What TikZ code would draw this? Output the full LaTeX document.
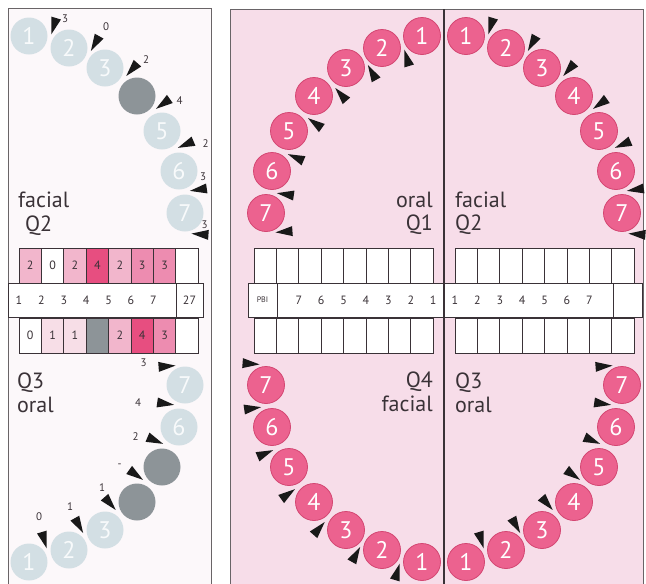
\documentclass[tikz,border=0pt]{standalone}
\usepackage{fontspec}
\setmainfont{PT Sans}
\usepackage{xcolor}
\usepackage{tikz}
\usetikzlibrary{calc,positioning}

\definecolor{panelpink}{RGB}{247,221,233}
\definecolor{paperwhite}{RGB}{252,248,250}
\definecolor{toothpink}{RGB}{236,98,143}
\definecolor{toothrim}{RGB}{212,70,114}
\definecolor{toothpale}{RGB}{211,223,228}
\definecolor{toothgone}{RGB}{141,148,152}
\definecolor{inkgray}{RGB}{58,50,55}
\definecolor{framegray}{RGB}{105,100,103}
\definecolor{sc0}{RGB}{255,255,255}
\definecolor{sc1}{RGB}{247,222,231}
\definecolor{sc2}{RGB}{242,182,204}
\definecolor{sc3}{RGB}{237,140,176}
\definecolor{sc4}{RGB}{231,78,128}

\tikzset{
  tooth/.style={circle, minimum size=37pt, inner sep=0pt, fill=toothpink, draw=toothrim,
    line width=0.8pt, text=white, font=\fontsize{24}{24}\selectfont},
  paletooth/.style={circle, minimum size=37pt, inner sep=0pt, fill=toothpale,
    text=white!85!toothpale, font=\fontsize{24}{24}\selectfont},
  gonetooth/.style={paletooth, fill=toothgone},
  cell/.style={draw=inkgray, line width=0.8pt, minimum width=22.4pt, minimum height=35pt,
    inner sep=0pt, text=inkgray, font=\fontsize{12}{12}\selectfont},
  strip/.style={draw=inkgray, fill=white, line width=0.8pt, minimum height=34pt,
    inner sep=0pt, outer sep=0pt, text=inkgray, font=\fontsize{12}{12}\selectfont},
  tabnum/.style={inner sep=0pt, text=inkgray, font=\fontsize{12}{12}\selectfont},
  sidetext/.style={inner sep=0pt, text=inkgray, font=\fontsize{22}{24}\selectfont},
  wedgelabel/.style={inner sep=0pt, text=inkgray, font=\fontsize{11}{11}\selectfont},
  wedgefill/.style={fill=black!90},
}

% black wedge in the gap between two teeth: tooth, next tooth, name
\newcommand{\gapwedge}[3]{%
  \coordinate (#3) at ($(#1)!0.5!(#2)$);
  \coordinate (#3-t) at ($(#3)!8pt!90:(#2)$);
  \coordinate (#3-b) at ($(#3)!25pt!90:(#2)$);
  \fill[wedgefill] (#3-t) -- ($(#3-b)!5pt!90:(#3-t)$) -- ($(#3-b)!5pt!-90:(#3-t)$) -- cycle;}

\begin{document}
\begin{tikzpicture}[x=1pt, y=-1pt]
\useasboundingbox (0,0) rectangle (646,584);

% Panels
\draw[framegray, fill=paperwhite] (8,8) rectangle (211,592);
\draw[framegray, fill=panelpink] (230,9) rectangle (643,592);

% Arch positions (8 = a point past the last tooth)
\foreach \k/\hx/\hy in {1/22/263, 2/62/251, 3/98/231, 4/130/203, 5/155/168, 6/172/128, 7/178/86, 8/175/46} {
  \coordinate (q1-\k) at (444-\hx, 299-\hy);
  \coordinate (q2-\k) at (444+\hx, 299-\hy);
  \coordinate (q3-\k) at (444+\hx, 299+\hy);
  \coordinate (q4-\k) at (444-\hx, 299+\hy);
  \coordinate (lu-\k) at (7+\hx, 299-\hy);
  \coordinate (ll-\k) at (7+\hx, 299+\hy);
}

% Left chart: facial scores, tooth numbers, oral scores
\foreach \k/\v/\c in {1/2/sc2, 2/0/sc0, 3/2/sc2, 4/4/sc4, 5/2/sc2, 6/3/sc3, 7/3/sc3, 8//white}
  \node[cell, fill=\c] (lf-\k) at (19+22.4*\k-11.2, 265.5) {\v};
\foreach \k/\v/\c in {1/0/sc0, 2/1/sc1, 3/1/sc1, 4//toothgone, 5/2/sc2, 6/4/sc4, 7/3/sc3, 8//white}
  \node[cell, fill=\c] (lo-\k) at (19+22.4*\k-11.2, 335.5) {\v};
\node[strip, minimum width=168pt] (lrow) at (92,300) {};
\node[strip, minimum width=27pt, right=0pt of lrow] (l27) {27};
\foreach \k in {1,...,7}
  \node[tabnum] (ln-\k) at (19+22.4*\k-22.4, 300) {\k};

% Right chart (empty)
\foreach \k in {1,...,8} {
  \node[cell, fill=white] (rf1-\k) at (433.2-22.4*\k+11.2, 265.5) {};
  \node[cell, fill=white] (ro1-\k) at (433.2-22.4*\k+11.2, 335.5) {};
  \node[cell, fill=white] (rf2-\k) at (455+22.4*\k-11.2, 265.5) {};
  \node[cell, fill=white] (ro2-\k) at (455+22.4*\k-11.2, 335.5) {};
}
\node[strip, minimum width=336pt] (rrow) at (445,300) {};
\node[strip, minimum width=29pt, left=0pt of rrow] (pbi) {\fontsize{8}{8}\selectfont PBI};
\node[strip, minimum width=29pt, right=0pt of rrow] (rend) {};
\foreach \k in {1,...,7} {
  \node[tabnum] (rn1-\k) at (433.2-22.4*\k+22.4, 300) {\k};
  \node[tabnum] (rn2-\k) at (455+22.4*\k-22.4, 300) {\k};
}

% Midline
\draw[line width=2pt, inkgray] (443.5,9) -- (443.5,592);

% Teeth
\foreach \q in {q1,q2,q3,q4}
  \foreach \k in {1,...,7}
    \node[tooth] (\q-t\k) at (\q-\k) {\k};
\foreach \k in {1,2,3,5,6,7}
  \node[paletooth] (lu-t\k) at (lu-\k) {\k};
\node[gonetooth] (lu-t4) at (lu-4) {};
\foreach \k in {1,2,3,6,7}
  \node[paletooth] (ll-t\k) at (ll-\k) {\k};
\node[gonetooth] (ll-t4) at (ll-4) {};
\node[gonetooth] (ll-t5) at (ll-5) {};

% Wedges
\foreach \q in {q1,q2,q3,q4,lu,ll}
  \foreach \k [count=\n from 2] in {1,...,7}
    {\gapwedge{\q-\k}{\q-\n}{\q-w\k}}

% Wedge scores
\foreach \k/\v/\ox/\oy in {1/3/16/-23, 2/0/19/-31, 3/2/25/-22, 4/4/30/-13, 5/2/35/-7, 6/3/21/-15, 7/3/21/-8}
  \node[wedgelabel] (lu-l\k) at ($(lu-w\k)+(\ox,\oy)$) {\v};
\foreach \k/\v/\ox/\oy in {1/0/-10/-39, 2/1/-17/-33, 3/1/-19/-28, 4/-/-30/-19, 5/2/-35/-10, 6/4/-44/-3, 7/3/-40/-2}
  \node[wedgelabel] (ll-l\k) at ($(ll-w\k)+(\ox,\oy)$) {\v};

% Side labels
\node[sidetext, anchor=base west] (lfacial) at (18,207) {facial};
\node[sidetext, anchor=base west] (lq2) at (25,231) {Q2};
\node[sidetext, anchor=base west] (lq3) at (17,388) {Q3};
\node[sidetext, anchor=base west] (loral) at (17,412) {oral};
\node[sidetext, anchor=base east] (roral1) at (433,207) {oral};
\node[sidetext, anchor=base east] (rq1) at (433,230) {Q1};
\node[sidetext, anchor=base west] (rfacial2) at (455,207) {facial};
\node[sidetext, anchor=base west] (rq2) at (455,230) {Q2};
\node[sidetext, anchor=base east] (rq4) at (433,387) {Q4};
\node[sidetext, anchor=base east] (rfacial4) at (433,411) {facial};
\node[sidetext, anchor=base west] (rq3) at (455,388) {Q3};
\node[sidetext, anchor=base west] (roral3) at (455,412) {oral};
\end{tikzpicture}
\end{document}
